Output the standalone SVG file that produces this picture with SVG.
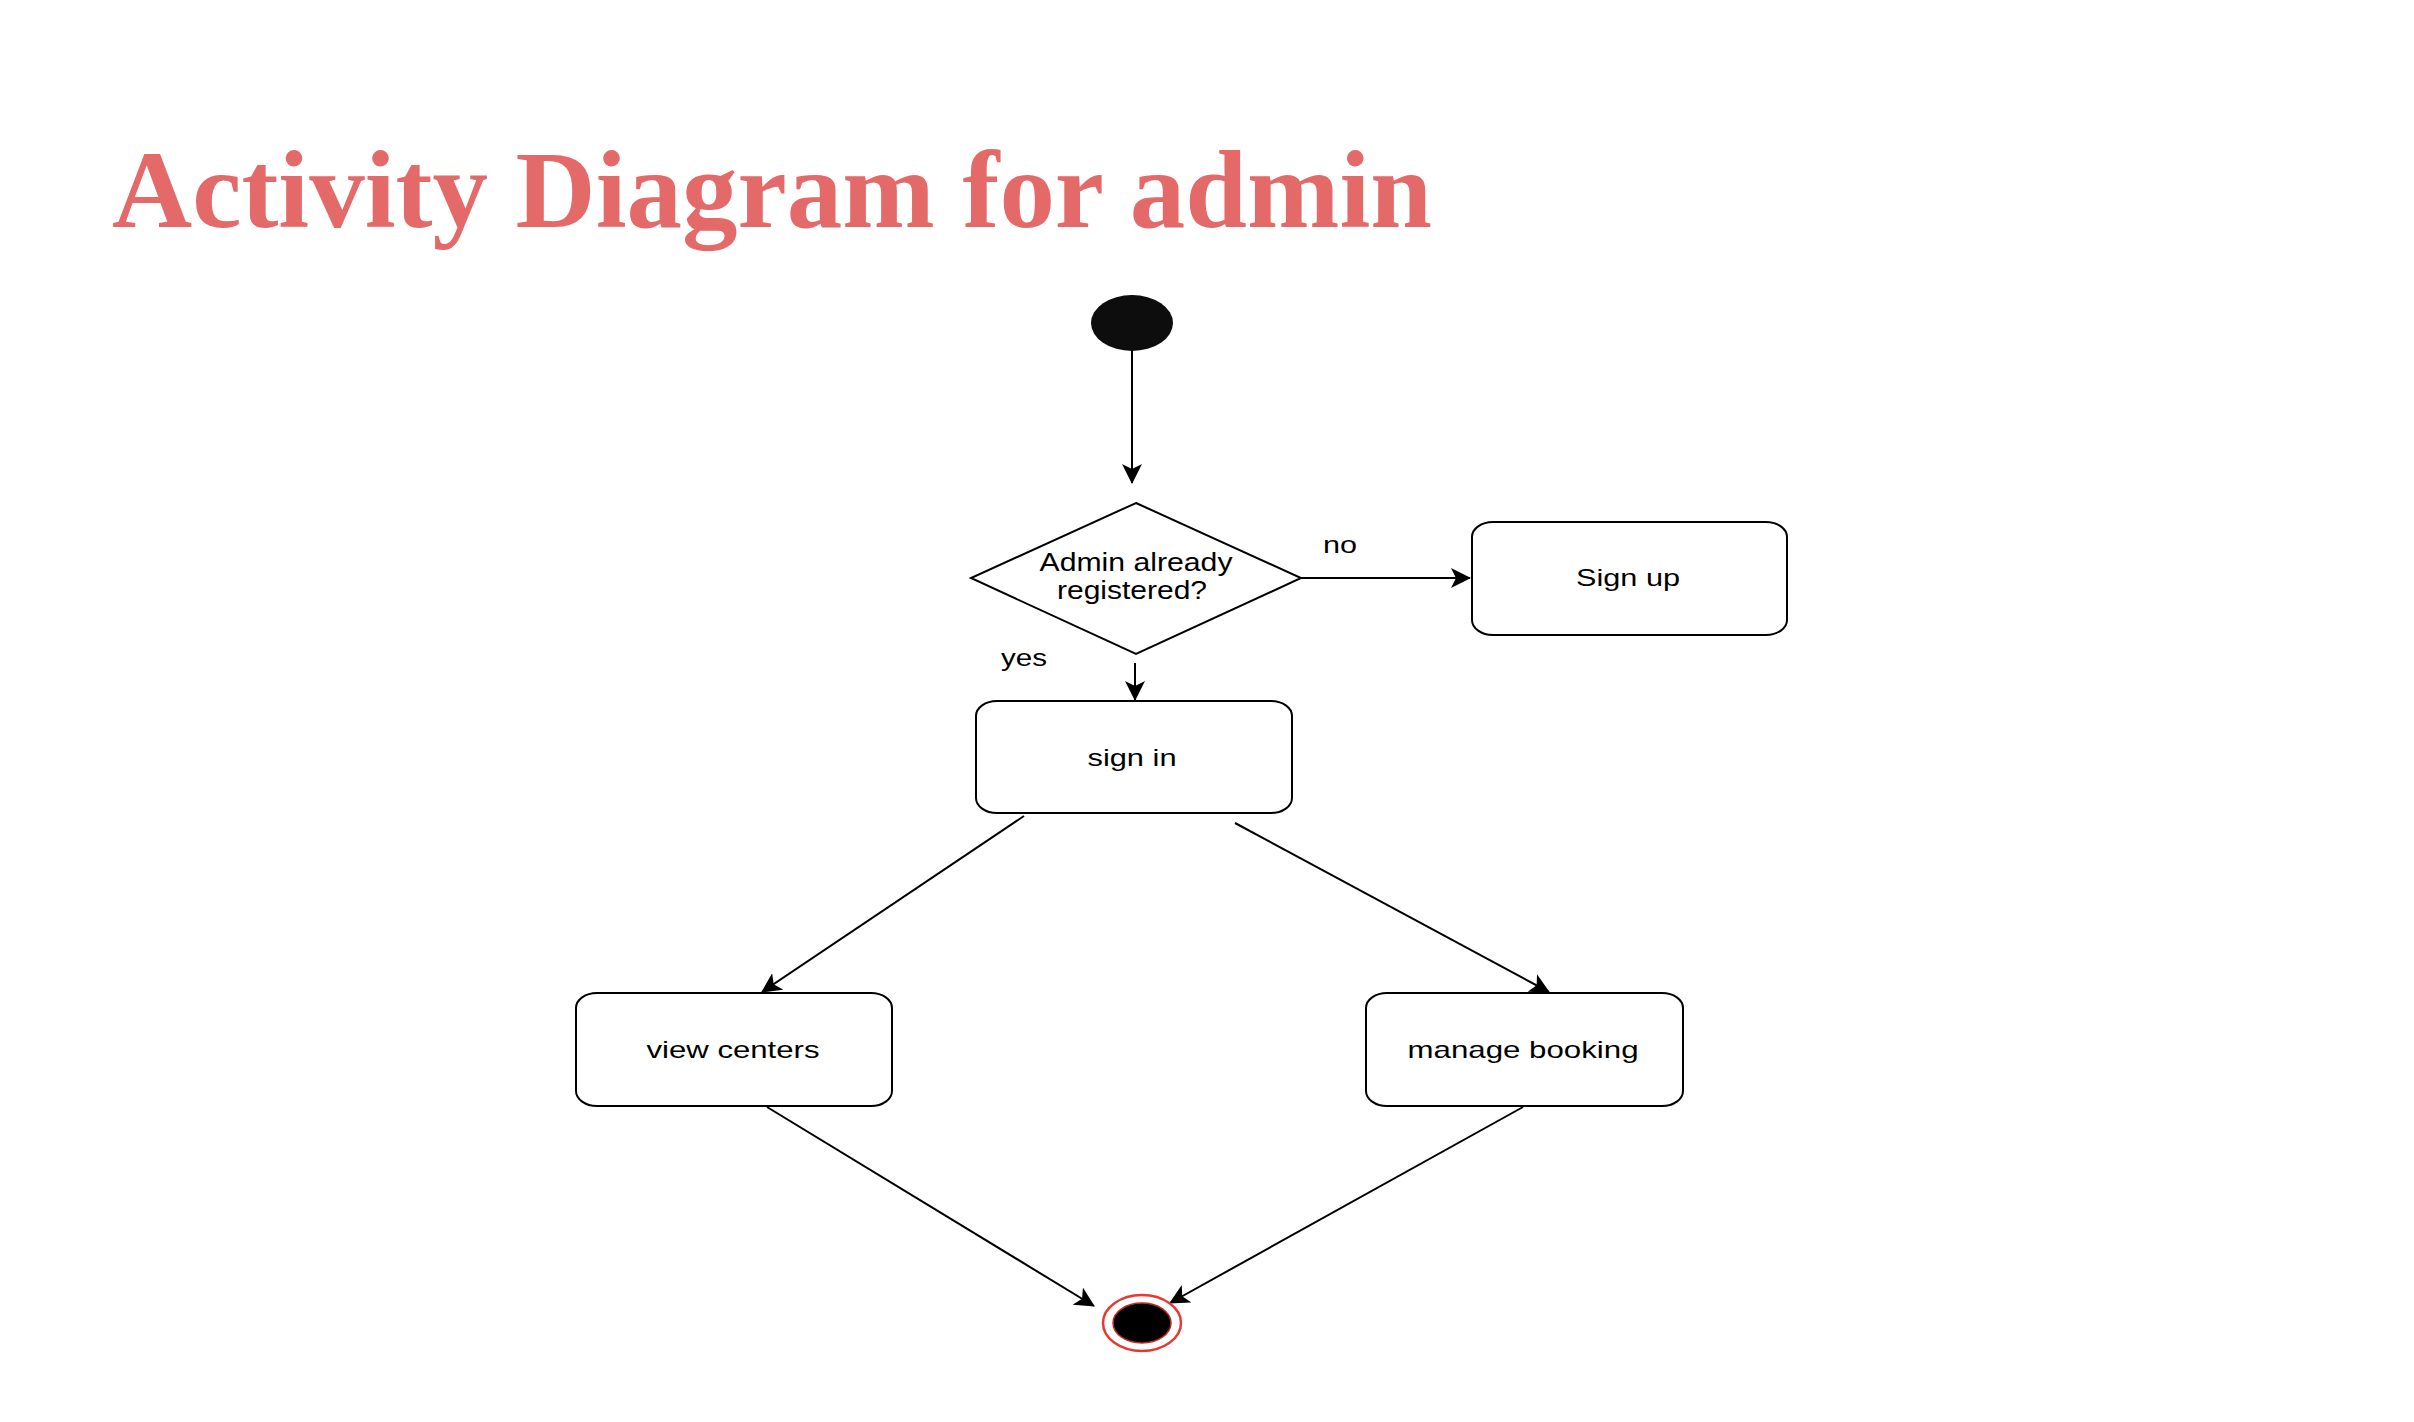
<svg xmlns="http://www.w3.org/2000/svg" width="2414" height="1422" viewBox="0 0 2414 1422">
  <style>
    .box { fill: #ffffff; stroke: #000000; stroke-width: 2; }
    .lbl { font-family: "Liberation Sans", Arial, sans-serif; font-size: 24px; fill: #000000; }
    .big { font-size: 26px; }
    .conn { fill: none; stroke: #000000; stroke-width: 2; marker-end: url(#arrow); }
    .title { font-family: "Liberation Serif", "Times New Roman", serif; font-weight: bold; font-size: 110px; fill: #E46A6A; }
  </style>
  <defs>
    <marker id="arrow" viewBox="0 0 20 20" markerWidth="20" markerHeight="20" refX="19" refY="10" orient="auto" markerUnits="userSpaceOnUse">
      <path d="M0,0 L20,10 L0,20 L5,10 Z" fill="#000000"/>
    </marker>
  </defs>
  <rect width="2414" height="1422" fill="#ffffff"/>

  <text class="title" x="112" y="227" textLength="1320" lengthAdjust="spacingAndGlyphs">Activity Diagram for admin</text>

  <g id="connectors">
    <line class="conn" x1="1132" y1="350" x2="1132" y2="483"/>
    <line class="conn" x1="1301" y1="578" x2="1470" y2="578"/>
    <line class="conn" x1="1135" y1="663" x2="1135" y2="700"/>
    <line class="conn" x1="1024" y1="816" x2="762" y2="992"/>
    <line class="conn" x1="1235" y1="823" x2="1549" y2="992"/>
    <line class="conn" x1="767" y1="1107" x2="1094" y2="1306"/>
    <line class="conn" x1="1523" y1="1107" x2="1170" y2="1303"/>
    <text class="lbl" x="1323" y="553" textLength="34" lengthAdjust="spacingAndGlyphs">no</text>
    <text class="lbl" x="1001" y="666" textLength="46" lengthAdjust="spacingAndGlyphs">yes</text>
  </g>

  <g id="start">
    <ellipse cx="1132" cy="323" rx="41" ry="28" fill="#0d0d0d"/>
  </g>

  <g id="decision">
    <polygon class="box" points="1136,503 1301,578 1136,654 971,578"/>
    <text class="lbl big" x="1136" y="571" text-anchor="middle" textLength="193" lengthAdjust="spacingAndGlyphs">Admin already</text>
    <text class="lbl big" x="1132" y="599" text-anchor="middle" textLength="150" lengthAdjust="spacingAndGlyphs">registered?</text>
  </g>

  <g id="signup">
    <rect class="box" x="1472" y="522" width="315" height="113" rx="21" ry="15"/>
    <text class="lbl" x="1628" y="586" text-anchor="middle" textLength="104" lengthAdjust="spacingAndGlyphs">Sign up</text>
  </g>

  <g id="signin">
    <rect class="box" x="976" y="701" width="316" height="112" rx="21" ry="15"/>
    <text class="lbl" x="1132" y="766" text-anchor="middle" textLength="89" lengthAdjust="spacingAndGlyphs">sign in</text>
  </g>

  <g id="viewcenters">
    <rect class="box" x="576" y="993" width="316" height="113" rx="21" ry="15"/>
    <text class="lbl" x="733" y="1058" text-anchor="middle" textLength="173" lengthAdjust="spacingAndGlyphs">view centers</text>
  </g>

  <g id="managebooking">
    <rect class="box" x="1366" y="993" width="317" height="113" rx="21" ry="15"/>
    <text class="lbl" x="1523" y="1058" text-anchor="middle" textLength="231" lengthAdjust="spacingAndGlyphs">manage booking</text>
  </g>

  <g id="end">
    <ellipse cx="1142" cy="1323" rx="39" ry="28" fill="#ffffff" stroke="#E53935" stroke-width="2.5"/>
    <ellipse cx="1142" cy="1323" rx="29" ry="20" fill="#000000" stroke="#C62828" stroke-width="1.5"/>
  </g>
</svg>
